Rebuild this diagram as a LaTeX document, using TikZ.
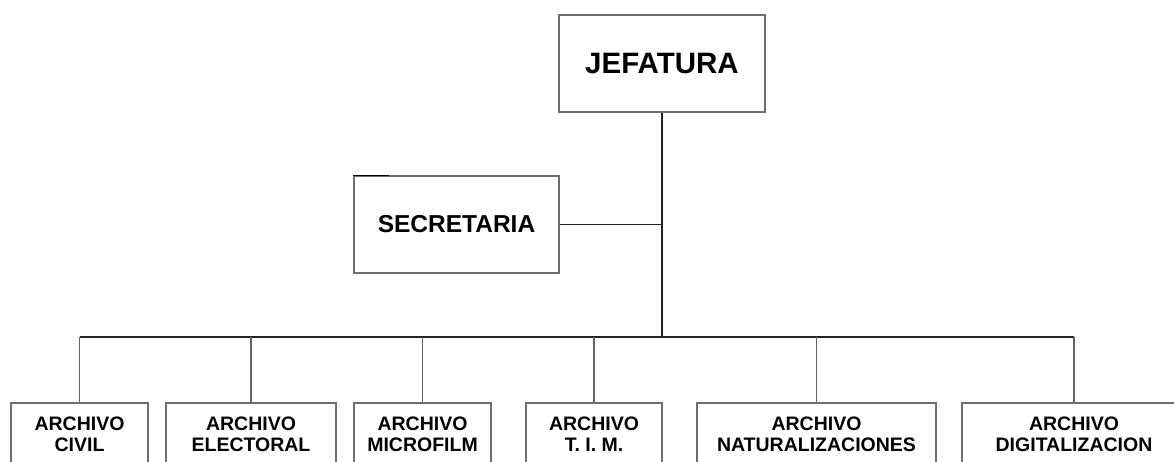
\documentclass[tikz,border=0pt]{standalone}
\usepackage{fontspec}
\setmainfont{Liberation Sans}
\definecolor{orgline}{HTML}{222222}
\definecolor{orgbox}{HTML}{6E6E6E}
\tikzset{
  unit/.style={rectangle,draw=orgbox,fill=white,line width=1.2pt,inner sep=0pt,align=center,font=\bfseries},
  boss/.style={unit,minimum width=206pt,minimum height=97pt,font=\fontsize{29.5}{34}\selectfont\bfseries},
  staff/.style={unit,minimum width=205pt,minimum height=97pt,font=\fontsize{24.5}{28}\selectfont\bfseries},
  archive/.style={unit,minimum height=62pt,font=\fontsize{19.5}{21}\selectfont\bfseries},
  link/.style={draw=orgline,line width=1.5pt},
  drop/.style={draw=orgbox!90!black,line width=1.1pt},
}
\begin{document}
\begin{tikzpicture}[x=1pt,y=-1pt]
  \clip (0,0) rectangle (1174,461);
  \fill[white] (0,0) rectangle (1174,461);
  % top levels
  \node[boss] (jef) at (662,63.5) {JEFATURA};
  \node[staff] (sec) at (456.5,224.5) {SECRETARIA};
  \draw[black,line width=1.6pt] (sec.north west) -- ++(36,0);
  \coordinate (bus) at (662,337);
  % archives
  \node[archive,minimum width=137pt] (civil) at (79.5,434) {ARCHIVO\\CIVIL};
  \node[archive,minimum width=170pt] (elec) at (251,434) {ARCHIVO\\ELECTORAL};
  \node[archive,minimum width=137pt] (micro) at (422.5,434) {ARCHIVO\\MICROFILM};
  \node[archive,minimum width=136pt] (tim) at (594,434) {ARCHIVO\\T. I. M.};
  \node[archive,minimum width=239pt] (nat) at (816.5,434) {ARCHIVO\\NATURALIZACIONES};
  \node[archive,minimum width=224pt] (dig) at (1074,434) {ARCHIVO\\DIGITALIZACION};
  % connectors
  \draw[link] (jef.south) -- (bus);
  \draw[link] (sec.east) -- (sec.east -| bus);
  \draw[link] (civil.north |- bus) -- (dig.north |- bus);
  \foreach \n in {civil,elec,micro,tim,nat,dig}
    \draw[drop] (\n.north) -- (\n.north |- bus);
\end{tikzpicture}
\end{document}
